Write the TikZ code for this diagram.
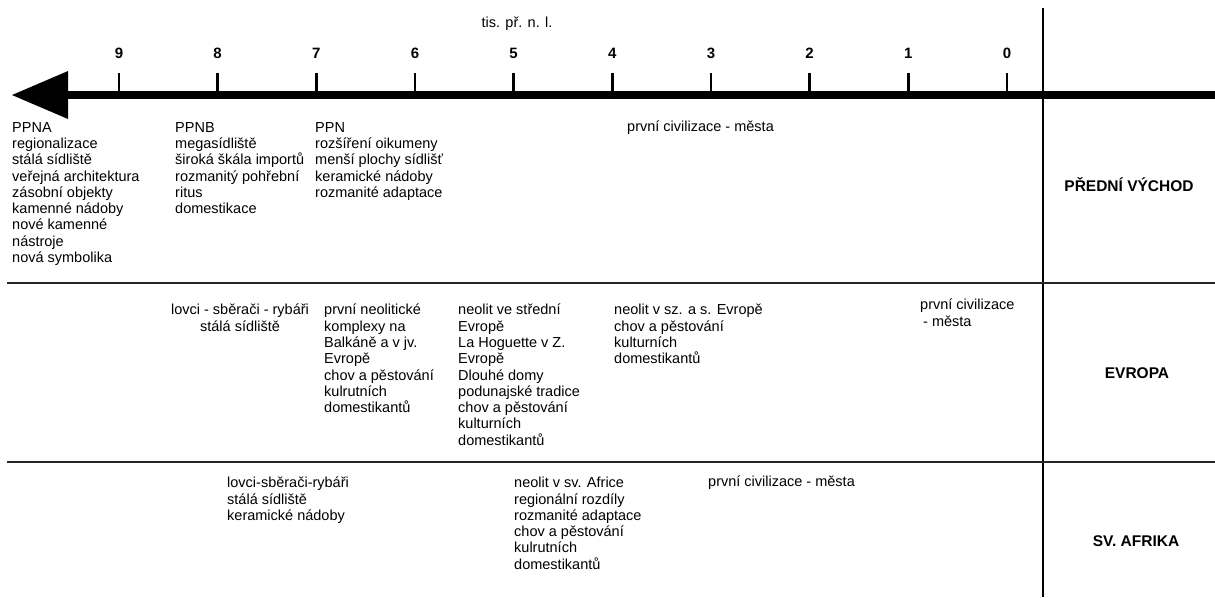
\documentclass[tikz,border=0pt]{standalone}
\usepackage{fontspec}
\setmainfont{Liberation Sans}
\tikzset{
 note/.style={anchor=north west, align=left, inner sep=0pt, font=\fontsize{14.5}{16.3}\selectfont,
  execute at begin node=\rule{0pt}{12pt}},
 region/.style={inner sep=0pt, font=\bfseries\fontsize{15.5}{18}\selectfont},
 year/.style={inner sep=0pt, font=\bfseries\fontsize{15}{18}\selectfont},
 rowline/.style={line width=2pt, black!85}
}
\begin{document}
\begin{tikzpicture} [x=1pt,y=-1pt]
\useasboundingbox (0,0) rectangle (1215,597);
\draw[line width=8pt] (62,95)--(1215,95);
\fill (12,95)--(68,71)--(68,119)--cycle;
\foreach \n in {0,...,9} {
 \draw[line width=2.5pt] (1007-98.67*\n,73) --++(0,22);
 \node[year] (y\n) at (1007-98.67*\n,53) {\n};
}
\node[note, anchor=north] (unit) at (517,15) {tis. př. n. l.};
\draw[line width=1.5pt] (1043,8)--(1043,597);
\draw[rowline] (7,283)--(1215,283);
\draw[rowline] (7,462)--(1215,462);
\node[region] (vychod) at (1129,185) {PŘEDNÍ VÝCHOD};
\node[region] (evropa) at (1137,373) {EVROPA};
\node[region] (afrika) at (1136,541) {SV. AFRIKA};
\node[note] (ppna) at (12,122) {PPNA\\regionalizace\\stálá sídliště\\veřejná architektura\\zásobní objekty\\kamenné nádoby\\nové kamenné\\nástroje\\nová symbolika};
\node[note] (ppnb) at (175,122) {PPNB\\megasídliště\\široká škála importů\\rozmanitý pohřební\\ritus\\domestikace};
\node[note] (ppn) at (315,122) {PPN\\rozšíření oikumeny\\menší plochy sídlišť\\keramické nádoby\\rozmanité adaptace};
\node[note] (civ-v) at (627,119) {první civilizace - města};
\node[note, align=center, anchor=north] (lovci-e) at (240,304) {lovci - sběrači - rybáři\\stálá sídliště};
\node[note] (balkan) at (324,304) {první neolitické\\komplexy na\\Balkáně a v jv.\\Evropě\\chov a pěstování\\kulrutních\\domestikantů};
\node[note] (stred) at (458,304) {neolit ve střední\\Evropě\\La Hoguette v Z.\\Evropě\\Dlouhé domy\\podunajské tradice\\chov a pěstování\\kulturních\\domestikantů};
\node[note] (sever) at (614,304) {neolit v sz. a s. Evropě\\chov a pěstování\\kulturních\\domestikantů};
\node[note] (civ-e) at (920,299) {první civilizace\\\hspace{3pt}- města};
\node[note] (lovci-a) at (227,477) {lovci-sběrači-rybáři\\stálá sídliště\\keramické nádoby};
\node[note] (neolit-a) at (514,477) {neolit v sv. Africe\\regionální rozdíly\\rozmanité adaptace\\chov a pěstování\\kulrutních\\domestikantů};
\node[note] (civ-a) at (708,474) {první civilizace - města};
\end{tikzpicture}
\end{document}
